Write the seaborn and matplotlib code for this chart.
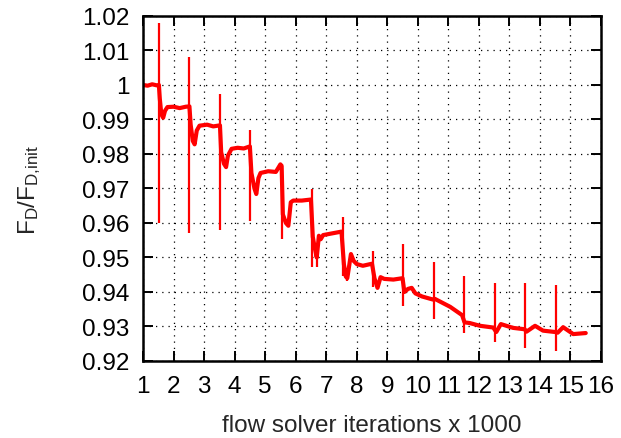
import matplotlib
matplotlib.use("Agg")
import matplotlib.pyplot as plt
import seaborn as sns
import pandas as pd

# Smoothed drag-ratio trend
trend_x = [1.0, 1.15, 1.3, 1.45, 1.52,
           1.55, 1.6, 1.66, 1.72, 1.8, 2.0, 2.2, 2.4, 2.52,
           2.56, 2.63, 2.69, 2.76, 2.85, 3.1, 3.3, 3.52,
           3.56, 3.65, 3.72, 3.78, 3.9, 4.1, 4.3, 4.5,
           4.55, 4.65, 4.71, 4.78, 4.85, 5.1, 5.35, 5.5, 5.54,
           5.58, 5.68, 5.76, 5.84, 5.92, 6.2, 6.5,
           6.56, 6.62, 6.69, 6.76, 6.82, 6.9, 7.2, 7.5,
           7.58, 7.64, 7.69, 7.81, 7.9, 8.0, 8.2, 8.5,
           8.58, 8.68, 8.78, 8.9, 9.2, 9.5,
           9.56, 9.68, 9.8, 9.92, 10.14, 10.5,
           10.56, 11.06, 11.45,
           11.53, 11.7, 12.04, 12.47,
           12.57, 12.72, 13.12, 13.5,
           13.56, 13.84, 14.1, 14.5,
           14.58, 14.76, 15.09, 15.5]
trend_y = [1.0, 0.9998, 1.0002, 0.9999, 1.0,
           0.9960, 0.9915, 0.9905, 0.9925, 0.9936, 0.9937, 0.9933, 0.9937, 0.9938,
           0.9885, 0.9838, 0.9828, 0.9868, 0.9882, 0.9885, 0.9880, 0.9883,
           0.9805, 0.9772, 0.9762, 0.9795, 0.9815, 0.9818, 0.9816, 0.9822,
           0.9745, 0.9700, 0.9684, 0.9730, 0.9745, 0.9750, 0.9748, 0.9770, 0.9765,
           0.9625, 0.9600, 0.9592, 0.9660, 0.9665, 0.9665, 0.9668,
           0.9560, 0.9530, 0.9500, 0.9563, 0.9553, 0.9565, 0.9570, 0.9575,
           0.9480, 0.9445, 0.9440, 0.9510, 0.9490, 0.9481, 0.9476, 0.9482,
           0.9440, 0.9412, 0.9443, 0.9438, 0.9436, 0.9440,
           0.9400, 0.9409, 0.9412, 0.9396, 0.9387, 0.9378,
           0.9380, 0.9357, 0.9333,
           0.9312, 0.9310, 0.9302, 0.9297,
           0.9284, 0.9307, 0.9296, 0.9292,
           0.9285, 0.9302, 0.9288, 0.9284,
           0.9282, 0.9298, 0.9278, 0.9281]

# Restart spikes: position, lowest and highest value
spike_x = [1.52, 2.52, 3.52, 4.50, 5.54, 6.52, 6.69, 7.54, 7.69, 8.54,
           9.51, 10.53, 11.50, 12.53, 13.52, 14.52]
spike_lo = [0.960, 0.957, 0.958, 0.9605, 0.9554, 0.9473, 0.9473, 0.9447, 0.9433, 0.9414,
            0.936, 0.9322, 0.9281, 0.9255, 0.9238, 0.9230]
spike_hi = [1.018, 1.008, 0.9974, 0.987, 0.9771, 0.9699, 0.9530, 0.9617, 0.9460, 0.952,
            0.9539, 0.9488, 0.9446, 0.9426, 0.9426, 0.9420]

x_ticks = list(range(1, 17))
y_ticks = [0.92, 0.93, 0.94, 0.95, 0.96, 0.97, 0.98, 0.99, 1.0, 1.01, 1.02]
y_tick_labels = ["0.92", "0.93", "0.94", "0.95", "0.96", "0.97", "0.98", "0.99", "1", "1.01", "1.02"]

sns.set_theme(style="ticks")
plt.rcParams["font.family"] = ["Liberation Sans", "DejaVu Sans"]
plt.rcParams["mathtext.default"] = "regular"

fig = plt.figure(figsize=(6.21, 4.39), dpi=100)
ax = fig.add_axes([0.2303, 0.1754, 0.7375, 0.7859])

df = pd.DataFrame({"x": trend_x, "y": trend_y})
sns.lineplot(data=df, x="x", y="y", ax=ax, color="#ff0000", linewidth=3.0,
             sort=False, estimator=None)
ax.vlines(spike_x, spike_lo, spike_hi, color="#ff0000", linewidth=1.6)

ax.set_xlim(1, 16)
ax.set_ylim(0.92, 1.02)
ax.set_xticks(x_ticks)
ax.set_xticklabels([str(t) for t in x_ticks])
ax.set_yticks(y_ticks)
ax.set_yticklabels(y_tick_labels)

ax.grid(True, color="black", linestyle=(0, (1, 4)), linewidth=0.9)
ax.tick_params(direction="in", length=7, width=1.4, top=True, right=True,
               labelsize=17.5, colors="black")
ax.tick_params(axis="y", pad=10)
ax.tick_params(axis="x", pad=10)
for s in ax.spines.values():
    s.set_linewidth(1.8)
    s.set_color("black")

ax.set_xlabel("flow solver iterations x 1000", fontsize=17.5, labelpad=12)
ax.set_ylabel("F$_D$/F$_{D{,}init}$", fontsize=17.5, labelpad=28)

fig.savefig("out.png", dpi=100)
